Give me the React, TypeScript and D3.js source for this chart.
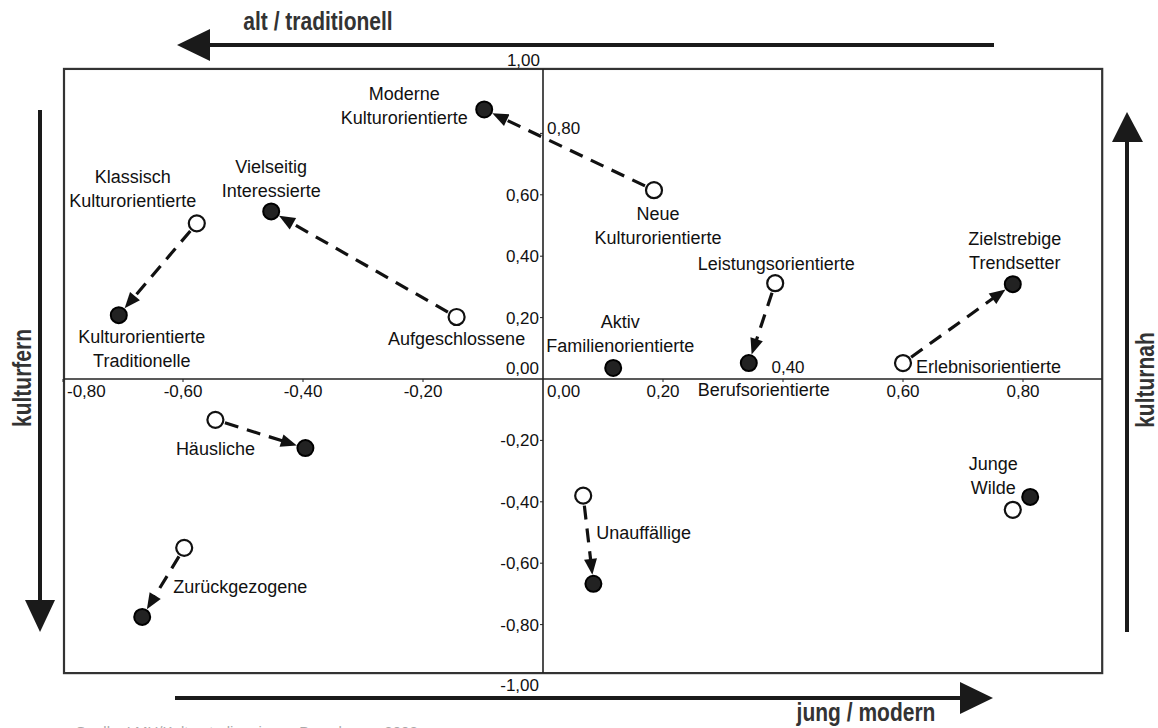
import * as d3 from 'd3';

// Typen: offener Kreis = Ausgangslage, gefüllter Kreis = Zielposition
const segmentIds = ['neue', 'klassisch', 'aufgeschlossen', 'haeuslich', 'zurueck', 'aktiv', 'leistung', 'erlebnis', 'unauffaellig', 'jungewilde'];
const openX: (number | null)[] = [0.185, -0.577, -0.144, -0.546, -0.598, null, 0.387, 0.6, 0.067, 0.783];
const openY: (number | null)[] = [0.615, 0.507, 0.202, -0.133, -0.55, null, 0.312, 0.052, -0.38, -0.426];
const filledX = [-0.098, -0.707, -0.453, -0.396, -0.668, 0.117, 0.343, 0.783, 0.084, 0.812];
const filledY = [0.878, 0.208, 0.546, -0.225, -0.775, 0.036, 0.052, 0.309, -0.667, -0.384];
const openLabels = ['Neue\nKulturorientierte', 'Klassisch\nKulturorientierte', 'Aufgeschlossene', 'Häusliche', 'Zurückgezogene', '', 'Leistungsorientierte', 'Erlebnisorientierte', 'Unauffällige', ''];
const filledLabels = ['Moderne\nKulturorientierte', 'Kulturorientierte\nTraditionelle', 'Vielseitig\nInteressierte', '', '', 'Aktiv\nFamilienorientierte', 'Berufsorientierte', 'Zielstrebige\nTrendsetter', '', 'Junge\nWilde'];

const xTicks = [-0.8, -0.6, -0.4, -0.2, 0, 0.2, 0.4, 0.6, 0.8];
const yTicks = [-0.8, -0.6, -0.4, -0.2, 0, 0.2, 0.4, 0.6, 0.8];
const axisTitles = ['alt / traditionell', 'jung / modern', 'kulturfern', 'kulturnah'];
const sourceNote = 'Quelle: LMU/Kulturstudie, eigene Berechnung 2008';

// Platzierung der Beschriftungen relativ zum Punkt (px)
const labelPlacement: Record<string, { dx: number; dy: number; anchor: string }> = {
  'Neue\nKulturorientierte': { dx: 4, dy: 30, anchor: 'middle' },
  'Klassisch\nKulturorientierte': { dx: -64, dy: -40, anchor: 'middle' },
  'Aufgeschlossene': { dx: 0, dy: 28, anchor: 'middle' },
  'Häusliche': { dx: 0, dy: 35, anchor: 'middle' },
  'Zurückgezogene': { dx: -11, dy: 45, anchor: 'start' },
  'Leistungsorientierte': { dx: 1, dy: -13, anchor: 'middle' },
  'Erlebnisorientierte': { dx: 13, dy: 10, anchor: 'start' },
  'Unauffällige': { dx: 13, dy: 43, anchor: 'start' },
  'Moderne\nKulturorientierte': { dx: -80, dy: -9, anchor: 'middle' },
  'Kulturorientierte\nTraditionelle': { dx: 23, dy: 28, anchor: 'middle' },
  'Vielseitig\nInteressierte': { dx: 0, dy: -38, anchor: 'middle' },
  'Aktiv\nFamilienorientierte': { dx: 7, dy: -40, anchor: 'middle' },
  'Berufsorientierte': { dx: -51, dy: 33, anchor: 'start' },
  'Zielstrebige\nTrendsetter': { dx: 2, dy: -39, anchor: 'middle' },
  'Junge\nWilde': { dx: -37, dy: -27, anchor: 'middle' },
};

const W = 1158;
const H = 728;
const R = 8;
const FONT = '"Liberation Sans", Arial, sans-serif';

const de = d3.formatLocale({ decimal: ',', thousands: '.', grouping: [3], currency: ['', '€'], minus: '-' });
const fmt = de.format('.2f');

function Arrow({ x1, y1, x2, y2 }: { x1: number; y1: number; x2: number; y2: number }) {
  const len = Math.hypot(x2 - x1, y2 - y1);
  if (len < 30) return null;
  const ux = (x2 - x1) / len, uy = (y2 - y1) / len;
  const nx = -uy, ny = ux;
  const sx = x1 + ux * (R + 2), sy = y1 + uy * (R + 2);
  const tx = x2 - ux * (R + 1), ty = y2 - uy * (R + 1);
  const head = 16, hw = 6.5;
  const bx = tx - ux * head, by = ty - uy * head;
  const pts = [[tx, ty], [bx + nx * hw, by + ny * hw], [bx - nx * hw, by - ny * hw]];
  return (
    <g>
      <line x1={sx} y1={sy} x2={bx + ux * 2} y2={by + uy * 2} stroke="#111" strokeWidth={3.2} strokeDasharray="14 9" />
      <polygon points={pts.map(p => p.join(',')).join(' ')} fill="#111" />
    </g>
  );
}

function Label({ text, px, py }: { text: string; px: number; py: number }) {
  if (!text) return null;
  const p = labelPlacement[text];
  const lines = text.split('\n');
  return (
    <text x={px + p.dx} y={py + p.dy} textAnchor={p.anchor} fontFamily={FONT} fontSize={18} fill="#111">
      {lines.map((l, i) => (
        <tspan key={i} x={px + p.dx} dy={i === 0 ? 0 : 24}>{l}</tspan>
      ))}
    </text>
  );
}

// fette, schmal gesetzte Achsentitel
function Title({ text, tx, ty, rotate = 0 }: { text: string; tx: number; ty: number; rotate?: number }) {
  return (
    <text
      transform={`translate(${tx},${ty}) rotate(${rotate}) scale(0.84,1)`}
      textAnchor="middle"
      fontFamily={FONT}
      fontWeight="bold"
      fontSize={25}
      fill="#333"
    >
      {text}
    </text>
  );
}

export default function App() {
  const x = d3.scaleLinear().domain([-0.8, 0.8]).range([63, 1023]);
  const y = d3.scaleLinear().domain([-1, 1]).range([686, 72]);

  const fx0 = x(-0.8) + 1, fx1 = x(0.932);
  const fy0 = y(1.01), fy1 = y(-0.958);
  const x0 = x(0), y0 = y(0);

  return (
    <svg width={W} height={H} style={{ position: 'absolute', left: 0, top: 0, background: '#fff' }}>
      <rect x={0} y={0} width={W} height={H} fill="#fff" />

      {/* Richtungspfeile */}
      <g fill="#1a1a1a" stroke="#1a1a1a">
        <line x1={994} y1={45} x2={205} y2={45} strokeWidth={4} />
        <polygon points="177,45 210,29 210,61" stroke="none" />
        <line x1={175} y1={698} x2={965} y2={698} strokeWidth={4} />
        <polygon points="993,698 960,682 960,714" stroke="none" />
        <line x1={40} y1={110} x2={40} y2={604} strokeWidth={4} />
        <polygon points="40,632 25,600 55,600" stroke="none" />
        <line x1={1127} y1={632} x2={1127} y2={138} strokeWidth={4} />
        <polygon points="1127,112 1112,142 1143,142" stroke="none" />
      </g>
      <Title text={axisTitles[0]} tx={318} ty={30} />
      <Title text={axisTitles[1]} tx={866} ty={721} />
      <Title text={axisTitles[2]} tx={31} ty={378} rotate={-90} />
      <Title text={axisTitles[3]} tx={1154} ty={380} rotate={-90} />
      <text x={75} y={737} fontFamily={FONT} fontSize={15} fill="#aaa">{sourceNote}</text>

      {/* Rahmen und Achsen */}
      <rect x={fx0} y={fy0} width={fx1 - fx0} height={fy1 - fy0} fill="none" stroke="#333" strokeWidth={2.2} />
      <line x1={x0} y1={fy0} x2={x0} y2={fy1} stroke="#222" strokeWidth={1.6} />
      <line x1={fx0} y1={y0} x2={fx1} y2={y0} stroke="#222" strokeWidth={1.6} />

      <g fontFamily={FONT} fontSize={17} fill="#111">
        {xTicks.map(t => {
          const tx = x(t);
          let anchor = 'middle', lx = tx, ly = y0 + 18;
          if (t === -0.8) { anchor = 'start'; lx = tx + 4; }
          if (t === 0) { anchor = 'start'; lx = tx + 4; }
          if (t === 0.4) { lx = tx + 5; ly = y0 - 6; }
          return (
            <g key={'x' + t}>
              {t !== 0 && <line x1={tx} x2={tx} y1={y0} y2={y0 + 3} stroke="#222" />}
              <text x={lx} y={ly} textAnchor={anchor}>{fmt(t)}</text>
            </g>
          );
        })}
        {yTicks.map(t => {
          const ty = y(t);
          let anchor = 'end', lx = x0 - 4, ly = ty + 6;
          if (t === 0.8) { anchor = 'start'; lx = x0 + 4; ly = ty + 1; }
          if (t === 0) { ly = ty - 5; }
          return (
            <g key={'y' + t}>
              {t !== 0 && <line x1={x0 - 3} x2={x0} y1={ty} y2={ty} stroke="#222" />}
              <text x={lx} y={ly} textAnchor={anchor}>{fmt(t)}</text>
            </g>
          );
        })}
        <text x={x0 - 3} y={fy0 - 3} textAnchor="end">{fmt(1)}</text>
        <text x={x0 - 4} y={fy1 + 18} textAnchor="end">{fmt(-1)}</text>
      </g>

      {/* Pfeile */}
      {segmentIds.map((id, i) => {
        const ox = openX[i], oy = openY[i];
        if (ox == null || oy == null) return null;
        return <Arrow key={'a' + id} x1={x(ox)} y1={y(oy)} x2={x(filledX[i])} y2={y(filledY[i])} />;
      })}

      {/* Punkte */}
      {segmentIds.map((id, i) => {
        const ox = openX[i], oy = openY[i];
        return (
          <g key={'p' + id}>
            {ox != null && oy != null && (
              <circle cx={x(ox)} cy={y(oy)} r={R} fill="#fff" stroke="#111" strokeWidth={2.2} />
            )}
            <circle cx={x(filledX[i])} cy={y(filledY[i])} r={R} fill="#222" stroke="#000" strokeWidth={2} />
          </g>
        );
      })}

      {/* Beschriftungen */}
      {segmentIds.map((id, i) => {
        const ox = openX[i], oy = openY[i];
        return (
          <g key={'l' + id}>
            {ox != null && oy != null && <Label text={openLabels[i]} px={x(ox)} py={y(oy)} />}
            <Label text={filledLabels[i]} px={x(filledX[i])} py={y(filledY[i])} />
          </g>
        );
      })}
    </svg>
  );
}
